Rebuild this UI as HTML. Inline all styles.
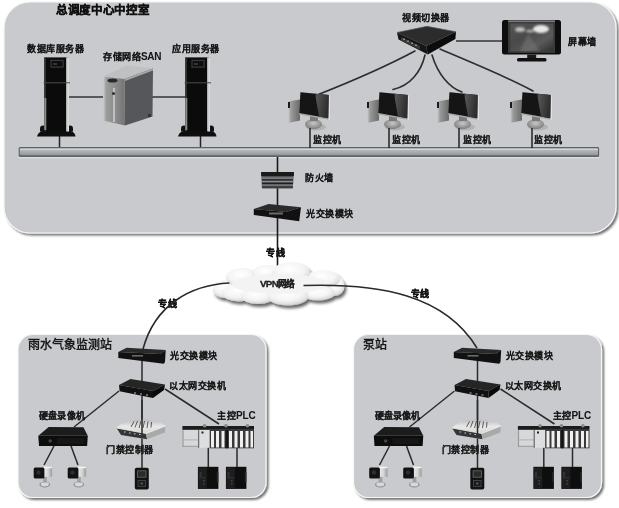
<!DOCTYPE html>
<html lang="zh-CN"><head><meta charset="utf-8">
<style>
html,body{margin:0;padding:0;background:#fff;width:619px;height:508px;overflow:hidden}
svg{display:block;will-change:transform;filter:blur(0.3px)}
text{font-family:"Liberation Sans",sans-serif;fill:#111}
.lb{font-size:9px;font-weight:bold;letter-spacing:0.5px;fill:#151515;stroke:#151515;stroke-width:0.05px}
.ttl{font-size:12px;font-weight:bold;fill:#1a1a1a}
</style></head><body>
<svg width="619" height="508" viewBox="0 0 619 508">
<defs>
  <linearGradient id="bus" x1="0" y1="0" x2="0" y2="1">
    <stop offset="0" stop-color="#c6c9cc"/><stop offset="0.18" stop-color="#d2d5d7"/><stop offset="0.3" stop-color="#b3b6b9"/><stop offset="0.8" stop-color="#9c9fa2"/><stop offset="1" stop-color="#85888b"/>
  </linearGradient>
  <linearGradient id="scr" x1="0" y1="0" x2="1" y2="0">
    <stop offset="0" stop-color="#0a0a0a"/><stop offset="0.55" stop-color="#141414"/><stop offset="0.58" stop-color="#505050"/><stop offset="1" stop-color="#1e1e1e"/>
  </linearGradient>
  <linearGradient id="scr2" x1="0" y1="0" x2="1" y2="0.3">
    <stop offset="0" stop-color="#2a2a2a"/><stop offset="0.15" stop-color="#555"/><stop offset="1" stop-color="#2e2e2e"/>
  </linearGradient>
  <linearGradient id="silver" x1="0" y1="0" x2="1" y2="0">
    <stop offset="0" stop-color="#cfcfcf"/><stop offset="0.15" stop-color="#9c9c9c"/><stop offset="0.6" stop-color="#8a8a8a"/><stop offset="1" stop-color="#727272"/>
  </linearGradient>
  <linearGradient id="tvg" x1="0" y1="0" x2="1" y2="1">
    <stop offset="0" stop-color="#555"/><stop offset="0.4" stop-color="#4a4a4a"/><stop offset="0.7" stop-color="#5a5a5a"/><stop offset="1" stop-color="#2e2e2e"/>
  </linearGradient>
  <linearGradient id="twr" x1="0" y1="0" x2="1" y2="0">
    <stop offset="0" stop-color="#cfcfcf"/><stop offset="0.25" stop-color="#9a9a9a"/><stop offset="1" stop-color="#6a6a6a"/>
  </linearGradient>
  <radialGradient id="stand" cx="0.5" cy="0.4" r="0.6">
    <stop offset="0" stop-color="#c8c8c8"/><stop offset="1" stop-color="#7a7a7a"/>
  </radialGradient>
  <linearGradient id="cloudg" x1="0" y1="0" x2="0.3" y2="1">
    <stop offset="0" stop-color="#fbfbfb"/><stop offset="0.45" stop-color="#eeeeee"/><stop offset="1" stop-color="#bdbdbd"/>
  </linearGradient>
  <radialGradient id="lobe" cx="0.45" cy="0.35" r="0.65">
    <stop offset="0" stop-color="#ffffff"/><stop offset="0.6" stop-color="#f4f4f4"/><stop offset="0.85" stop-color="#e2e2e2"/><stop offset="1" stop-color="#c6c6c6"/>
  </radialGradient>
  <linearGradient id="camg" x1="0" y1="0" x2="1" y2="0">
    <stop offset="0" stop-color="#e8e8e8"/><stop offset="0.5" stop-color="#d5d5d5"/><stop offset="1" stop-color="#9a9a9a"/>
  </linearGradient>
  <linearGradient id="router" x1="0" y1="0" x2="0" y2="1">
    <stop offset="0" stop-color="#bcbcbc"/><stop offset="0.35" stop-color="#e8e8e8"/><stop offset="1" stop-color="#c9c9c9"/>
  </linearGradient>
  <filter id="sh" x="-10%" y="-10%" width="130%" height="130%">
    <feGaussianBlur in="SourceAlpha" stdDeviation="1.2"/><feOffset dx="1.5" dy="2"/>
    <feComponentTransfer><feFuncA type="linear" slope="0.55"/></feComponentTransfer>
    <feMerge><feMergeNode/><feMergeNode in="SourceGraphic"/></feMerge>
  </filter>
  <filter id="blur1" x="-20%" y="-20%" width="140%" height="140%"><feGaussianBlur stdDeviation="1.3"/></filter>
  <filter id="csh" x="-10%" y="-20%" width="130%" height="150%">
    <feGaussianBlur in="SourceAlpha" stdDeviation="1.5"/><feOffset dx="2" dy="3"/>
    <feComponentTransfer><feFuncA type="linear" slope="0.6"/></feComponentTransfer>
    <feMerge><feMergeNode/><feMergeNode in="SourceGraphic"/></feMerge>
  </filter>
</defs>

<!-- ===== TOP PANEL ===== -->
<rect x="4" y="2" width="612" height="231" rx="26" ry="26" fill="#c8cacd" stroke="#f6f6f6" stroke-width="1.2" filter="url(#sh)"/>

<text x="56" y="14.3" style="font-size:11.5px;font-weight:bold;letter-spacing:0.65px;stroke:#111;stroke-width:0.4px">总调度中心中控室</text>

<!-- connector lines -->
<line x1="69" y1="97" x2="103" y2="97" stroke="#333" stroke-width="1.5"/>
<line x1="150" y1="97" x2="188" y2="97" stroke="#333" stroke-width="1.5"/>
<line x1="59.5" y1="136" x2="59.5" y2="148" stroke="#222" stroke-width="1.5"/>
<line x1="200.5" y1="136" x2="200.5" y2="148" stroke="#222" stroke-width="1.5"/>

<!-- bus -->
<rect x="18.7" y="157" width="580.4" height="1.3" fill="#dcdee0"/>
<rect x="18.7" y="147" width="580.4" height="10" rx="1.5" fill="#5e6165"/>
<rect x="19.8" y="148.3" width="578.2" height="7.2" rx="0.8" fill="url(#bus)"/>

<!-- labels -->
<text class="lb" x="27" y="51.5">数据库服务器</text>
<text class="lb" x="103" y="60">存储网络<tspan style="font-size:10px;letter-spacing:-0.3px">SAN</tspan></text>
<text class="lb" x="172" y="51.5">应用服务器</text>
<text class="lb" x="402" y="20.5">视频切换器</text>
<text class="lb" x="568" y="45">屏幕墙</text>
<text class="lb" x="313" y="143">监控机</text>
<text class="lb" x="392" y="143">监控机</text>
<text class="lb" x="463" y="143">监控机</text>
<text class="lb" x="534" y="143">监控机</text>
<text class="lb" x="305" y="181">防火墙</text>
<text class="lb" x="306" y="217">光交换模块</text>

<!-- db server -->
<g id="tower">
  <path d="M37 136.5 C 38 133, 40 131, 45 130.5 L68 130.5 C 73 131, 75 133, 75.5 136.5 Z" fill="#0e0e0e"/>
  <path d="M40 128.5 a3 3 0 0 1 6 0 v3 h-6 Z" fill="#111"/>
  <path d="M67 128.5 a3 3 0 0 1 6 0 v3 h-6 Z" fill="#111"/>
  <rect x="44.3" y="57.4" width="24.7" height="74" fill="#0b0b0b"/>
  <rect x="44.3" y="57.4" width="1.5" height="74" fill="#3a3a3a"/>
  <rect x="44.3" y="98" width="2" height="32" fill="#8a8a8a"/>
  <rect x="66" y="57.4" width="3" height="74" fill="#b0b0b0"/>
  <rect x="67.3" y="57.4" width="1.7" height="74" fill="#dcdcdc"/>
  <rect x="50.4" y="59.8" width="13.3" height="7.9" fill="#3a3a3a"/>
  <rect x="51.6" y="61" width="10.9" height="5.5" fill="#0e0e0e"/>
  <rect x="53" y="63" width="4" height="2" fill="#333"/>
  <rect x="43.5" y="82.3" width="26.5" height="1" fill="#4a4a4a"/>
</g>
<use href="#tower" transform="translate(141,0)"/>

<!-- SAN -->
<g>
  <path d="M103 76.5 L124.5 79 L153 68.5 L126.5 65.5 Z" fill="#bfc0c1"/>
  <path d="M124.5 79 L153 68.5 L152.5 116.5 L125 125.5 Z" fill="#55575a"/>
  <path d="M124.5 79 L153 68.5 L153 70.5 L125 81 Z" fill="#a5a7a9"/>
  <path d="M103 76.5 L124.5 79 L125 125.5 L103 120.5 Z" fill="url(#silver)"/>
  <rect x="113" y="88" width="2" height="34" fill="#bfbfbf"/>
  <circle cx="113.5" cy="93.5" r="1.6" fill="#333"/>
  <ellipse cx="112.5" cy="80.5" rx="5" ry="2" fill="#2a2a2a"/>
  <rect x="148" y="114" width="3" height="3" fill="#333"/>
</g>

<!-- video switcher -->
<g>
  <path d="M397 32.5 L427 26.3 L456 31.8 L426.2 46 Z" fill="#2c2c2c"/>
  <path d="M397 32.5 L426.2 46 L427.8 54.6 L398.5 39.5 Z" fill="#161616"/>
  <path d="M426.2 46 L456 31.8 L455.4 39 L427.8 54.6 Z" fill="#0c0c0c"/>
  <path d="M401 37 L420 46 L420 49.5 L401 40.5 Z" fill="#3a3a3a"/>
  <g fill="#8a8a8a"><rect x="403" y="38.5" width="2" height="1.5"/><rect x="407" y="40.5" width="2" height="1.5"/><rect x="411" y="42.5" width="2" height="1.5"/><rect x="415" y="44.5" width="2" height="1.5"/></g>
  <path d="M397 32.5 L427 26.3 L456 31.8" fill="none" stroke="#5a5a5a" stroke-width="0.7"/>
</g>
<line x1="456" y1="41" x2="502" y2="41" stroke="#333" stroke-width="1.4"/>
<!-- cables -->
<g fill="none" stroke="#2d2d2d" stroke-width="1.6" stroke-linecap="round">
  <path d="M415 51 C 385 67, 350 82, 317 95"/>
  <path d="M425 55 C 421 72, 410 86, 393 89.5"/>
  <path d="M432 55 C 438 75, 450 88, 462 92"/>
  <path d="M440 49 C 470 62, 510 78, 533 91"/>
</g>

<!-- screen wall -->
<g>
  <rect x="502" y="20" width="59" height="34.6" rx="2.5" fill="#0d0d0d"/>
  <rect x="508" y="21.2" width="47" height="31.7" fill="#3a3a3a"/>
  <rect x="508" y="20.5" width="47" height="1.2" fill="#9a9a9a"/>
  <rect x="510.3" y="23.5" width="43" height="27.7" fill="url(#tvg)"/>
  <g filter="url(#blur1)">
    <ellipse cx="541" cy="29" rx="8" ry="4" fill="#e8e8e8"/>
    <ellipse cx="520" cy="29.5" rx="5" ry="2.5" fill="#bdbdbd"/>
    <ellipse cx="530" cy="31" rx="4" ry="1.5" fill="#aaa"/>
    <path d="M528 34 L520 51 L540 51 Z" fill="#777" opacity="0.5"/>
  </g>
  <rect x="527.2" y="54.6" width="9" height="4" fill="#1a1a1a"/>
  <rect x="517" y="58" width="29.5" height="3.4" rx="1.5" fill="#111"/>
</g>

<!-- monitors -->
<g id="mon">
  <path d="M288 101.5 L300 99.5 L300 120.5 L288 123 Z" fill="url(#twr)"/>
  <rect x="288" y="102" width="2" height="6" fill="#1a1a1a"/>
  <ellipse cx="316" cy="127" rx="10" ry="3.5" fill="#888" opacity="0.35"/>
  <ellipse cx="313.5" cy="124.3" rx="8.5" ry="5" fill="url(#stand)"/>
  <path d="M310 114 L318 115 L318 121 L310 121 Z" fill="#7a7a7a"/>
  <path d="M300.5 92.3 L330.5 95 L330 120 L299 114.5 Z" fill="#a9a9a9"/>
  <path d="M328.8 95 L330.5 95.2 L330 120 L328.4 119.7 Z" fill="#e2e2e2"/>
  <path d="M300.5 92.3 L328.6 95 L328.2 118.3 L299.2 113 Z" fill="#151515"/>
  <path d="M315 93.7 L328.6 95 L328.2 118.3 L319 116.6 Z" fill="url(#scr2)"/>
  <line x1="310" y1="128" x2="310" y2="148" stroke="#222" stroke-width="1.5"/>
</g>
<use href="#mon" transform="translate(79,0)"/>
<use href="#mon" transform="translate(149,0)"/>
<use href="#mon" transform="translate(222,0)"/>

<!-- vertical trunk -->
<line x1="277.5" y1="157" x2="277.5" y2="267.5" stroke="#1a1a1a" stroke-width="1.6"/>

<!-- firewall -->
<g>
  <path d="M261.2 172 L293.9 172 L292.8 188.6 L261.9 188.6 Z" fill="#505254"/>
  <rect x="261.2" y="172" width="32.7" height="4" fill="#1a1a1a"/>
  <rect x="262" y="177.5" width="31" height="1.2" fill="#8c8e90"/>
  <rect x="262" y="179.3" width="31" height="1" fill="#222"/>
  <rect x="262" y="181" width="31" height="1.2" fill="#8a8c8e"/>
  <rect x="262" y="182.8" width="31" height="1.2" fill="#1e1e1e"/>
  <rect x="262" y="184.6" width="31" height="1.2" fill="#7e8082"/>
  <rect x="262" y="186.5" width="31" height="1" fill="#2a2a2a"/>
</g>

<!-- optical switch top -->
<g>
  <path d="M253.8 209 L268.5 204 L301 207.2 L286 212 Z" fill="#2a2a2a"/>
  <path d="M253.8 209 L286 212 L301 207.2 L299.2 221.3 L253.8 215 Z" fill="#111"/>
  <rect x="269" y="212.5" width="14" height="2" fill="#6a6a6a"/>
</g>

<!-- labels zhuanxian -->
<text class="lb" x="266" y="256" style="stroke-width:0.45px">专线</text>
<text class="lb" x="158" y="307" style="stroke-width:0.45px">专线</text>
<text class="lb" x="410.5" y="296.5" style="stroke-width:0.45px">专线</text>

<!-- cloud -->
<g filter="url(#csh)">
  <ellipse cx="224" cy="289" rx="11" ry="9" fill="url(#lobe)"/>
  <ellipse cx="335" cy="286" rx="9.5" ry="10" fill="url(#lobe)"/>
  <ellipse cx="242" cy="277.5" rx="16" ry="9.5" fill="url(#lobe)"/>
  <ellipse cx="323" cy="279" rx="17" ry="9" fill="url(#lobe)"/>
  <ellipse cx="266" cy="273.5" rx="14" ry="8.5" fill="url(#lobe)"/>
  <ellipse cx="291" cy="273" rx="19" ry="11" fill="url(#lobe)"/>
  <ellipse cx="239" cy="293" rx="17" ry="8.5" fill="url(#lobe)"/>
  <ellipse cx="318" cy="293" rx="17" ry="7.5" fill="url(#lobe)"/>
  <ellipse cx="258" cy="296" rx="17" ry="8" fill="url(#lobe)"/>
  <ellipse cx="288" cy="296" rx="20.5" ry="9.5" fill="url(#lobe)"/>
  <ellipse cx="280" cy="284" rx="48" ry="10" fill="#f3f3f3"/>
</g>
<text x="260" y="287" style="font-size:8.6px;font-weight:bold;fill:#222;stroke:#222;stroke-width:0.35px;letter-spacing:-0.6px"><tspan style="font-size:9.8px;letter-spacing:-0.7px">VPN</tspan>网络</text>

<!-- ===== STATIONS ===== -->
<g id="station">
  <rect x="18" y="334.5" width="248" height="163" rx="15" ry="15" fill="#c8cacd" stroke="#f6f6f6" stroke-width="1.2" filter="url(#sh)"/>
  <!-- lines -->
  <g stroke="#2a2a2a" stroke-width="1.5" fill="none">
    <line x1="142" y1="350" x2="142" y2="470"/>
    <line x1="119" y1="391" x2="74" y2="427"/>
    <line x1="165" y1="389" x2="219" y2="424"/>
    <line x1="54" y1="446" x2="44" y2="465"/>
    <line x1="71" y1="446" x2="78" y2="465"/>
    <line x1="208.3" y1="447" x2="208.3" y2="467"/>
    <line x1="237" y1="447" x2="237" y2="467"/>
  </g>
  <!-- optical switch -->
  <path d="M118.3 352 L126.6 347.7 L165.7 350 L160 354 Z" fill="#2a2a2a"/>
  <path d="M118.3 352 L160 354 L165.7 350 L165 362 L163.7 363.7 L118.3 358 Z" fill="#111"/>
  <rect x="132" y="355" width="11" height="1.6" fill="#6a6a6a"/>
  <!-- eth switch -->
  <path d="M119 385 L130.5 379 L165 384.5 L153 391 Z" fill="#252525"/>
  <path d="M119 385 L153 391 L153 398 L119.6 391.2 Z" fill="#111"/>
  <path d="M153 391 L165 384.5 L164 390 L153 398 Z" fill="#0a0a0a"/>
  <rect x="134" y="392" width="2" height="2" fill="#666"/><rect x="140" y="393" width="2" height="2" fill="#666"/><rect x="146" y="394" width="2" height="2" fill="#666"/>
  <!-- DVR -->
  <path d="M38.3 435.7 L48.7 426.9 L83.4 427.2 L87.8 435.7 Z" fill="#1c1c1c"/>
  <path d="M38.3 435.7 L87.8 435.7 L87.1 446 L39 446 Z" fill="#0d0d0d"/>
  <circle cx="50.2" cy="441" r="1.8" fill="#444"/>
  <rect x="57" y="438" width="27" height="6" fill="#161616"/>
  <!-- cameras -->
  <g id="cam">
    <ellipse cx="44.8" cy="484.5" rx="5.3" ry="3" fill="#8e8e8e"/>
    <ellipse cx="44.8" cy="484.3" rx="4" ry="2.2" fill="#d8d8d8"/>
    <rect x="43.2" y="476.5" width="3.6" height="6" fill="#a0a0a0"/>
    <path d="M44 466.7 L52.1 466.7 L52.1 476.8 L44 476.8 Z" fill="url(#camg)"/>
    <rect x="44" y="466.7" width="8.1" height="1.5" fill="#f4f4f4"/>
    <rect x="33.7" y="467.4" width="10.7" height="11" rx="1.5" fill="#121212"/>
    <circle cx="38.5" cy="472.5" r="2.2" fill="#2e2e2e"/>
  </g>
  <use href="#cam" transform="translate(34,0)"/>
  <!-- door controller -->
  <path d="M116.5 428 C 121 422, 131 419.5, 141 419.5 C 152 419.5, 162 421.5, 165.5 426 L 165 432.5 L 147 439.3 L 121 435 Z" fill="url(#router)"/>
  <path d="M116.5 428 L146 433.5 L147 439.3 L121 435 Z" fill="#353535"/>
  <path d="M146 433.5 L165.5 426 L165 432.5 L147 439.3 Z" fill="#a9a9a9"/>
  <path d="M116.5 428 L146 433.5 L165.5 426" fill="none" stroke="#f0f0f0" stroke-width="0.8"/>
  <g fill="#cfcfcf"><rect x="124" y="431.5" width="1.5" height="1"/><rect x="129" y="432.5" width="1.5" height="1"/><rect x="134" y="433.3" width="1.5" height="1"/><rect x="139" y="434" width="1.5" height="1"/></g>
  <g stroke="#4a4a4a" stroke-width="0.9">
    <line x1="131" y1="427" x2="134" y2="421.5"/><line x1="135" y1="427.5" x2="137.5" y2="421"/>
    <line x1="139" y1="428" x2="141" y2="421"/><line x1="143" y1="428" x2="144.5" y2="421"/>
    <line x1="147" y1="428" x2="148" y2="421.5"/><line x1="151" y1="427.5" x2="151.5" y2="422"/>
  </g>
  <line x1="142" y1="400" x2="142" y2="434" stroke="#2a2a2a" stroke-width="1.5"/>
  <!-- card reader -->
  <rect x="134.8" y="467.8" width="14" height="21.8" rx="1.8" fill="#121212"/>
  <rect x="137.6" y="470.8" width="8.4" height="6.4" fill="#2a2a2a" stroke="#6a6a6a" stroke-width="0.8"/>
  <rect x="138" y="480.5" width="7.6" height="6" fill="#1a1a1a" stroke="#4a4a4a" stroke-width="0.8"/>
  <rect x="140.5" y="482.5" width="2.5" height="2" fill="#555"/>
  <!-- PLC -->
  <rect x="182.4" y="429.8" width="16.3" height="17" fill="#d6d8d9"/>
  <rect x="182.4" y="429.8" width="1.2" height="17" fill="#9a9a9a"/>
  <rect x="182.4" y="439.5" width="16.3" height="0.8" fill="#a8a8a8"/>
  <rect x="182.4" y="445.8" width="16.3" height="1" fill="#999"/>
  <rect x="198.7" y="429.8" width="11" height="18" fill="#dcdedf"/>
  <rect x="209.7" y="429.8" width="44.3" height="18.5" fill="#3a3a3a"/>
  <g fill="#f0f0f0">
    <rect x="211" y="431" width="3" height="16.5"/><rect x="216" y="431" width="3" height="16.5"/><rect x="221.5" y="431" width="3" height="16.5"/>
    <rect x="229" y="431" width="3" height="16.5"/><rect x="234.5" y="431" width="3" height="16.5"/><rect x="240" y="431" width="3" height="16.5"/>
    <rect x="245.5" y="431" width="3" height="16.5"/><rect x="250.5" y="431" width="2.5" height="16.5"/>
  </g>
  <rect x="198.2" y="429.8" width="1" height="18" fill="#555"/>
  <rect x="225.5" y="429.8" width="2.5" height="18.5" fill="#151515"/>
  <rect x="182.4" y="426" width="71.6" height="3.8" fill="#1c1c1c"/>
  <circle cx="204.6" cy="425.8" r="1.8" fill="#8a8a8a"/><circle cx="226" cy="425.8" r="1.8" fill="#8a8a8a"/><circle cx="247.4" cy="425.8" r="1.8" fill="#8a8a8a"/>
  <rect x="201.5" y="431.5" width="2" height="2" fill="#222"/>
  <!-- drives -->
  <g id="drv">
    <rect x="197.9" y="466.8" width="20.5" height="22.1" fill="#0e0e0e"/>
    <rect x="198.3" y="467.5" width="8.5" height="21" fill="#1e1e1e"/>
    <rect x="199.5" y="472" width="2" height="5" fill="#333"/>
    <rect x="199" y="477.5" width="7" height="0.8" fill="#3a3a3a"/>
    <rect x="203" y="480" width="1.5" height="1.5" fill="#444"/><rect x="203" y="483" width="1.5" height="1.5" fill="#444"/>
    <rect x="216.8" y="472" width="1.6" height="10" fill="#2a2a2a"/>
  </g>
  <use href="#drv" transform="translate(28,0)"/>
  <!-- labels -->
  <text class="lb" x="170" y="359">光交换模块</text>
  <text class="lb" x="169" y="389">以太网交换机</text>
  <text class="lb" x="39" y="419" style="letter-spacing:0.2px">硬盘录像机</text>
  <text class="lb" x="217" y="419">主控<tspan style="font-size:10px;letter-spacing:-0.2px">PLC</tspan></text>
  <text class="lb" x="106" y="452.5">门禁控制器</text>
</g>
<use href="#station" transform="translate(335.5,0)"/>
<!-- cables to stations -->
<g fill="none" stroke="#2a2a2a" stroke-width="1.6">
  <path d="M229.5 283 C 190 285, 155 305, 143 349"/>
  <path d="M303.5 285.5 C 380 283, 445 295, 477 348"/>
</g>


<text class="ttl" x="28.3" y="349">雨水气象监测站</text>
<text class="ttl" x="363" y="349">泵站</text>

</svg>
</body></html>
